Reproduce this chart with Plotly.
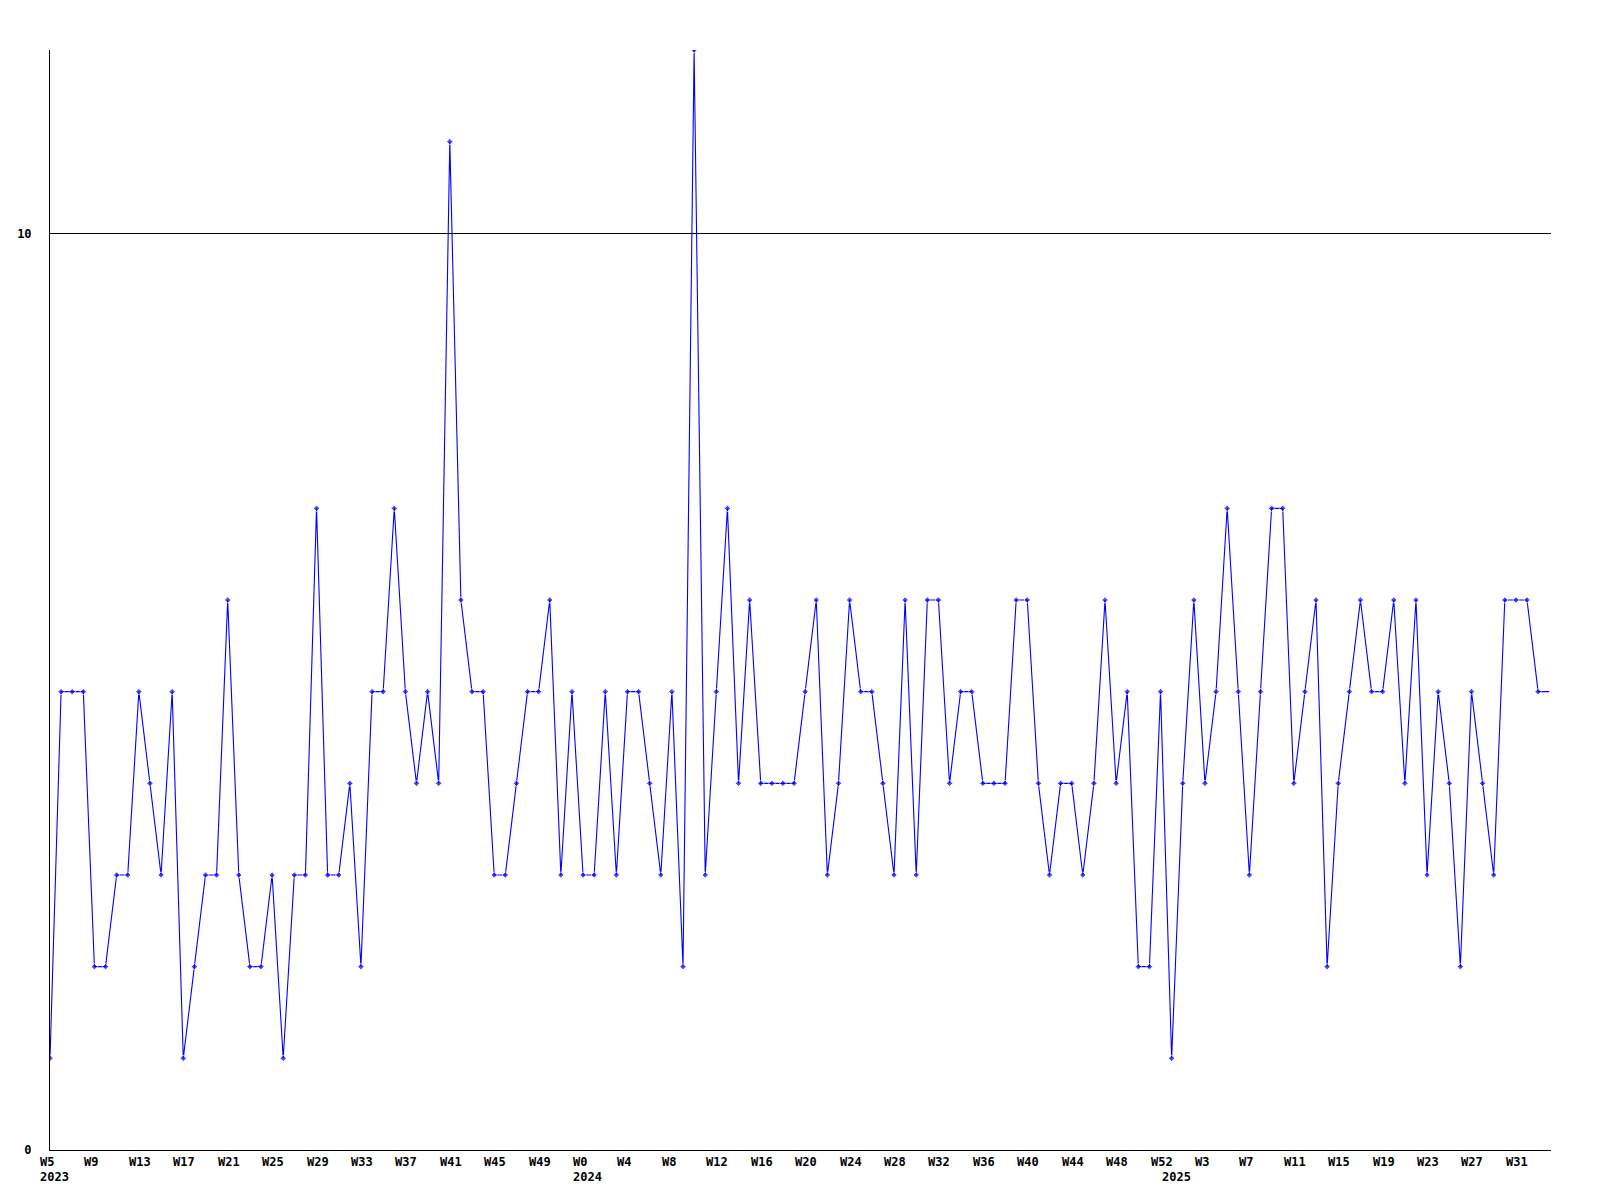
import plotly.graph_objects as go

# ---- data -------------------------------------------------------------
# weekly counts, 2023 W5 ... 2025 W34 (last one runs off the right edge)
years_weeks = [(2023, 5, 52), (2024, 0, 52), (2025, 0, 34)]
week_keys = [f"{y}-W{w}" for (y, a, b) in years_weeks for w in range(a, b + 1)]

values = [
    1, 5, 5, 5, 2, 2, 3, 3, 5, 4,
    3, 5, 1, 2, 3, 3, 6, 3, 2, 2,
    3, 1, 3, 3, 7, 3, 3, 4, 2, 5,
    5, 7, 5, 4, 5, 4, 11, 6, 5, 5,
    3, 3, 4, 5, 5, 6, 3, 5, 3, 3,
    5, 3, 5, 5, 4, 3, 5, 2, 12, 3,
    5, 7, 4, 6, 4, 4, 4, 4, 5, 6,
    3, 4, 6, 5, 5, 4, 3, 6, 3, 6,
    6, 4, 5, 5, 4, 4, 4, 6, 6, 4,
    3, 4, 4, 3, 4, 6, 4, 5, 2, 2,
    5, 1, 4, 6, 4, 5, 7, 5, 3, 5,
    7, 7, 4, 5, 6, 2, 4, 5, 6, 5,
    5, 6, 4, 6, 3, 5, 4, 2, 5, 4,
    3, 6, 6, 6, 5, 5,
]

tick_keys = week_keys[0:136:4]
tick_labels = ["W5", "W9", "W13", "W17", "W21", "W25", "W29", "W33", "W37", "W41",
               "W45", "W49", "W0", "W4", "W8", "W12", "W16", "W20", "W24", "W28",
               "W32", "W36", "W40", "W44", "W48", "W52", "W3", "W7", "W11", "W15",
               "W19", "W23", "W27", "W31"]
year_keys = ["2023-W5", "2024-W0", "2025-W0"]
year_labels = ["2023", "2024", "2025"]

y_ticks = [0, 10]

# ---- figure -----------------------------------------------------------
FONT = dict(family="DejaVu Sans Mono", size=12, color="black", weight="bold")

marker_sizes = [5] * (len(values) - 1) + [0]

fig = go.Figure()
fig.add_trace(go.Scatter(
    x=week_keys[:len(values)], y=values,
    mode="lines+markers",
    line=dict(color="#0000ff", width=1.1),
    marker=dict(symbol="diamond", size=marker_sizes, color="#0000ff"),
    showlegend=False,
))

annotations = []
for k, t in zip(tick_keys, tick_labels):
    annotations.append(dict(x=k, y=0, xref="x", yref="paper", text=t,
                            showarrow=False, xanchor="left", yanchor="top",
                            xshift=-12, yshift=-3, font=FONT))
for k, t in zip(year_keys, year_labels):
    annotations.append(dict(x=k, y=0, xref="x", yref="paper", text=t,
                            showarrow=False, xanchor="left", yanchor="top",
                            xshift=-12, yshift=-18, font=FONT))

fig.update_layout(
    width=1600, height=1200,
    margin=dict(l=50, r=49, t=50, b=50),
    paper_bgcolor="white", plot_bgcolor="white",
    annotations=annotations,
    xaxis=dict(type="category", range=[0, 135.16], showgrid=False,
               showline=True, linecolor="black", linewidth=1,
               showticklabels=False, ticks="", zeroline=False),
    yaxis=dict(range=[0, 12], tickvals=y_ticks, ticktext=[str(v) for v in y_ticks],
               showgrid=True, gridcolor="black", gridwidth=1,
               showline=True, linecolor="black", linewidth=1,
               ticks="", ticklabelstandoff=15, zeroline=False,
               tickfont=FONT),
)

fig.write_html("out.html",
               config={"displayModeBar": False},
               post_script="document.body.style.margin='0';document.body.style.padding='0';")
